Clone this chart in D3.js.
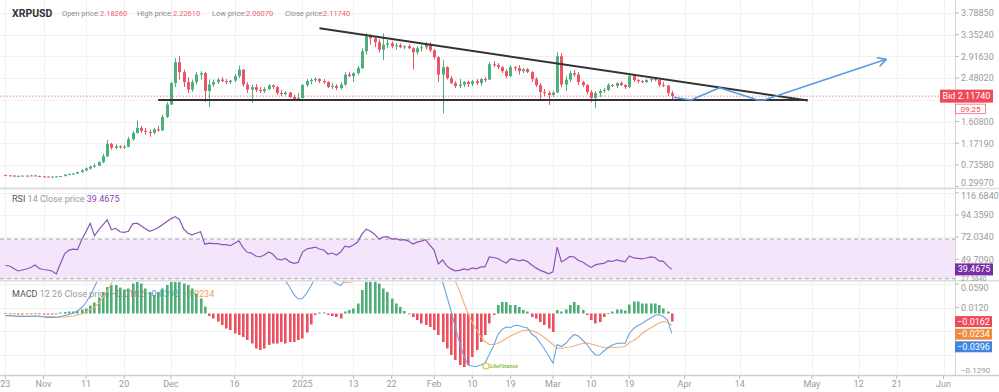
<!DOCTYPE html>
<html><head><meta charset="utf-8">
<script src="https://cdn.jsdelivr.net/npm/d3@7"></script>
<style>
body{margin:0;background:#fff;overflow:hidden}
svg{display:block;font-family:Roboto,"Noto Sans",sans-serif}
</style></head><body><svg id="c" width="999" height="392"></svg>
<script>
// ---------- DATA (daily candles from 2024-10-23) ----------
const startDate = "2024-10-23";
const opens = [0.530,0.525,0.522,0.510,0.516,0.520,0.515,0.524,0.514,0.504,
0.502,0.498,0.500,0.505,0.512,0.540,0.552,0.562,0.590,0.625,
0.665,0.700,0.720,0.790,0.910,1.160,1.080,1.110,1.090,1.100,
1.250,1.380,1.480,1.420,1.400,1.380,1.450,1.430,1.700,1.950,
2.380,2.800,2.600,2.400,2.250,2.400,2.550,2.580,2.220,2.350,
2.400,2.450,2.420,2.400,2.430,2.520,2.650,2.350,2.250,2.300,
2.240,2.220,2.260,2.330,2.300,2.180,2.160,2.190,2.100,2.060,
2.080,2.340,2.420,2.440,2.460,2.420,2.400,2.300,2.320,2.280,
2.350,2.550,2.520,2.580,2.680,3.020,3.320,3.280,3.200,3.050,
3.150,3.180,3.120,3.140,3.100,3.120,3.080,3.000,3.080,3.100,
3.160,3.040,2.900,2.550,2.700,2.480,2.380,2.320,2.350,2.400,
2.360,2.420,2.380,2.460,2.450,2.760,2.740,2.700,2.620,2.520,
2.700,2.680,2.620,2.660,2.600,2.460,2.340,2.200,2.180,2.140,
2.190,2.920,2.350,2.450,2.580,2.550,2.400,2.340,2.200,2.080,
2.180,2.220,2.240,2.340,2.320,2.380,2.340,2.300,2.520,2.440,
2.420,2.400,2.440,2.460,2.440,2.340,2.330,2.1826];
const highs = [0.540,0.532,0.526,0.520,0.524,0.528,0.530,0.528,0.518,0.512,
0.508,0.504,0.510,0.516,0.550,0.560,0.572,0.600,0.650,0.685,
0.725,0.760,0.810,0.960,1.240,1.180,1.150,1.130,1.140,1.300,
1.420,1.630,1.520,1.480,1.440,1.480,1.520,1.750,2.000,2.400,
2.880,2.920,2.650,2.500,2.450,2.600,2.620,2.600,2.450,2.450,
2.480,2.500,2.460,2.440,2.560,2.730,2.660,2.400,2.350,2.360,
2.300,2.300,2.360,2.360,2.320,2.240,2.220,2.200,2.140,2.180,
2.360,2.460,2.480,2.500,2.480,2.460,2.420,2.380,2.360,2.400,
2.600,2.600,2.600,2.720,3.080,3.380,3.360,3.300,3.260,3.380,
3.250,3.220,3.180,3.180,3.140,3.160,3.100,3.120,3.150,3.200,
3.200,3.060,2.920,2.840,2.720,2.520,2.420,2.460,2.420,2.430,
2.440,2.460,2.480,2.500,2.800,2.820,2.780,2.720,2.660,2.740,
2.720,2.740,2.680,2.680,2.620,2.500,2.380,2.260,2.220,2.220,
3.000,2.980,2.520,2.620,2.640,2.600,2.420,2.360,2.240,2.220,
2.260,2.280,2.380,2.360,2.400,2.420,2.360,2.580,2.560,2.460,
2.440,2.460,2.500,2.500,2.460,2.400,2.340,2.2261];
const lows = [0.520,0.515,0.500,0.505,0.510,0.508,0.510,0.510,0.500,0.494,
0.494,0.488,0.490,0.496,0.505,0.530,0.545,0.555,0.580,0.610,
0.640,0.680,0.710,0.770,0.890,1.040,1.050,1.060,1.060,1.090,
1.220,1.360,1.380,1.340,1.300,1.350,1.400,1.420,1.680,1.940,
2.300,2.450,2.300,2.180,2.200,2.350,2.450,2.000,1.900,2.300,
2.360,2.400,2.350,2.360,2.400,2.480,2.300,2.180,1.980,2.200,
2.180,2.180,2.240,2.260,2.140,2.120,2.130,2.080,2.030,2.040,
2.070,2.300,2.360,2.400,2.380,2.360,2.280,2.260,2.240,2.250,
2.320,2.500,2.400,2.550,2.660,2.950,3.150,3.100,3.000,2.840,
3.080,3.080,3.050,3.080,3.060,3.060,2.650,2.950,3.020,3.050,
3.000,2.860,2.400,1.770,2.450,2.360,2.280,2.280,2.300,2.300,
2.320,2.340,2.320,2.400,2.440,2.700,2.660,2.580,2.480,2.500,
2.620,2.550,2.580,2.580,2.400,2.300,2.040,2.120,1.940,2.100,
2.180,2.300,2.220,2.400,2.500,2.340,2.300,2.150,1.990,1.880,
2.100,2.180,2.220,2.300,2.280,2.320,2.260,2.280,2.400,2.380,
2.380,2.380,2.400,2.420,2.300,2.300,2.120,2.0607];
const closes = [0.525,0.522,0.510,0.516,0.520,0.515,0.524,0.514,0.504,0.502,
0.498,0.500,0.505,0.512,0.540,0.552,0.562,0.590,0.625,0.665,
0.700,0.720,0.790,0.910,1.160,1.080,1.110,1.090,1.100,1.250,
1.380,1.480,1.420,1.400,1.380,1.450,1.430,1.700,1.950,2.380,
2.800,2.600,2.400,2.250,2.400,2.550,2.580,2.220,2.350,2.400,
2.450,2.420,2.400,2.430,2.520,2.650,2.350,2.250,2.300,2.240,
2.220,2.260,2.330,2.300,2.180,2.160,2.190,2.100,2.060,2.080,
2.340,2.420,2.440,2.460,2.420,2.400,2.300,2.320,2.280,2.350,
2.550,2.520,2.580,2.680,3.020,3.320,3.280,3.200,3.050,3.150,
3.180,3.120,3.140,3.100,3.120,3.080,3.000,3.080,3.100,3.160,
3.040,2.900,2.550,2.700,2.480,2.380,2.320,2.350,2.400,2.360,
2.420,2.380,2.460,2.450,2.760,2.740,2.700,2.620,2.520,2.700,
2.680,2.620,2.660,2.600,2.460,2.340,2.200,2.180,2.140,2.190,
2.920,2.350,2.450,2.580,2.550,2.400,2.340,2.200,2.080,2.180,
2.220,2.240,2.340,2.320,2.380,2.340,2.300,2.520,2.440,2.420,
2.400,2.440,2.460,2.440,2.340,2.330,2.180,2.1174];
const rsi = [43.4,42.9,40.4,37.9,38.9,39.9,41.4,43.9,40.4,39.4,
38.9,37.9,34.9,45.4,55.4,58.9,59.9,59.4,69.4,77.4,
85.9,73.4,79.4,84.4,89.4,79.4,80.9,77.4,76.9,77.9,
85.4,86.0,83.4,80.4,77.9,79.4,81.4,84.4,87.4,90.4,
92.7,89.9,80.4,75.9,74.4,75.9,77.4,64.9,65.9,65.4,
65.4,64.4,64.4,63.4,65.9,68.4,61.4,56.7,55.9,53,
52,54,57,55,50,49,50.5,47,45.5,46.5,
57,60,61,62,60,59,55,56,54,57,
63,62,64,67,75,80,78,75,70,72,
72.5,70,70.5,69,69.5,68,65,67,68,69.5,
64,59,45,49,43,40,38,38.5,40,39,
41,40,42,42,52,51.5,50.5,48,46,50,
49.5,48,49,47.5,44,41,38.5,37,35,37,
62,47,49.5,52.5,52,48.5,47,44,41.5,44,
45,45.5,48,47.5,49,48,47,53,51,50.5,
50,51,52,51.5,48,47.5,43,39.4675];
const macdLine = [-0.004,-0.004,-0.005,-0.006,-0.006,-0.006,-0.006,-0.005,-0.006,-0.007,
-0.008,-0.008,-0.008,-0.006,-0.004,-0.002,0.001,0.005,0.012,0.022,
0.036,0.053,0.072,0.100,0.130,0.150,0.160,0.165,0.170,0.180,
0.198,0.218,0.230,0.232,0.235,0.237,0.253,0.272,0.293,0.315,
0.331,0.347,0.359,0.370,0.376,0.376,0.374,0.362,0.342,0.335,
0.325,0.313,0.299,0.288,0.272,0.259,0.244,0.225,0.203,0.176,
0.149,0.133,0.123,0.110,0.095,0.083,0.065,0.053,0.037,0.029,
0.030,0.041,0.055,0.072,0.076,0.075,0.069,0.065,0.060,0.056,
0.066,0.069,0.074,0.088,0.122,0.154,0.169,0.184,0.190,0.190,
0.190,0.182,0.175,0.170,0.163,0.158,0.150,0.143,0.135,0.130,
0.123,0.112,0.087,0.063,0.035,0.005,-0.028,-0.058,-0.085,-0.103,
-0.105,-0.106,-0.103,-0.099,-0.082,-0.065,-0.043,-0.032,-0.027,-0.028,
-0.024,-0.024,-0.027,-0.029,-0.041,-0.047,-0.059,-0.071,-0.085,-0.099,
-0.062,-0.066,-0.060,-0.050,-0.042,-0.045,-0.053,-0.062,-0.074,-0.083,
-0.083,-0.075,-0.068,-0.063,-0.060,-0.059,-0.060,-0.040,-0.030,-0.024,
-0.020,-0.014,-0.009,-0.004,-0.002,-0.006,-0.013,-0.0396];
const signalLine = [-0.005,-0.005,-0.005,-0.005,-0.005,-0.005,-0.005,-0.005,-0.005,-0.006,
-0.006,-0.006,-0.007,-0.007,-0.007,-0.006,-0.005,-0.003,-0.001,0.003,
0.008,0.013,0.020,0.032,0.045,0.060,0.078,0.094,0.108,0.122,
0.138,0.155,0.170,0.182,0.192,0.200,0.210,0.222,0.236,0.252,
0.268,0.284,0.299,0.313,0.326,0.336,0.344,0.348,0.347,0.345,
0.341,0.336,0.329,0.321,0.312,0.302,0.291,0.278,0.263,0.246,
0.222,0.203,0.186,0.170,0.155,0.140,0.125,0.110,0.094,0.082,
0.080,0.079,0.077,0.075,0.074,0.073,0.072,0.070,0.067,0.066,
0.062,0.062,0.064,0.068,0.075,0.090,0.105,0.120,0.130,0.140,
0.147,0.152,0.155,0.157,0.158,0.158,0.157,0.156,0.155,0.153,
0.150,0.145,0.130,0.120,0.105,0.088,0.065,0.045,0.022,0.000,
-0.018,-0.033,-0.046,-0.056,-0.062,-0.062,-0.060,-0.055,-0.050,-0.045,
-0.041,-0.037,-0.034,-0.033,-0.034,-0.037,-0.042,-0.048,-0.055,-0.062,
-0.069,-0.070,-0.068,-0.067,-0.065,-0.062,-0.060,-0.059,-0.061,-0.063,
-0.066,-0.068,-0.069,-0.067,-0.068,-0.067,-0.066,-0.058,-0.054,-0.048,
-0.040,-0.034,-0.029,-0.024,-0.019,-0.016,-0.017,-0.0234];
const histogram = [0.001,0.000,-0.001,-0.002,-0.002,-0.001,0.000,0.001,-0.001,-0.002,
-0.002,-0.002,-0.001,0.002,0.003,0.004,0.004,0.006,0.008,0.010,
0.016,0.022,0.032,0.043,0.053,0.057,0.057,0.052,0.048,0.050,
0.060,0.063,0.060,0.050,0.043,0.037,0.043,0.050,0.057,0.063,
0.063,0.063,0.060,0.057,0.050,0.040,0.030,0.014,-0.005,-0.010,
-0.016,-0.023,-0.030,-0.033,-0.040,-0.043,-0.047,-0.053,-0.060,-0.070,
-0.073,-0.070,-0.063,-0.060,-0.060,-0.057,-0.060,-0.057,-0.057,-0.053,
-0.050,-0.038,-0.022,-0.003,0.002,0.002,-0.003,-0.005,-0.007,-0.010,
0.004,0.007,0.010,0.020,0.047,0.064,0.064,0.064,0.060,0.050,
0.043,0.030,0.020,0.013,0.005,0.000,-0.007,-0.013,-0.020,-0.023,
-0.027,-0.033,-0.043,-0.057,-0.070,-0.083,-0.093,-0.103,-0.107,-0.103,
-0.087,-0.073,-0.057,-0.043,-0.020,-0.003,0.017,0.023,0.023,0.017,
0.017,0.013,0.007,0.004,-0.007,-0.010,-0.017,-0.023,-0.030,-0.037,
0.007,0.004,0.008,0.017,0.023,0.017,0.007,-0.003,-0.013,-0.020,
-0.017,-0.007,0.001,0.004,0.008,0.008,0.006,0.018,0.024,0.024,
0.020,0.020,0.020,0.020,0.017,0.010,0.004,-0.0162];

const priceTicks = [3.78850,3.35240,2.91630,2.48020,2.04410,1.60800,1.17190,0.73580,0.29970];
const rsiTicks = [116.6840,94.3590,72.0340,49.7090,27.3840];
const macdTicks = [0.0590,0.0120,-0.0350,-0.0820,-0.1290];
const rsiBand = [70,30];
const timeTickDates = ["2024-10-23","2024-11-01","2024-11-11","2024-11-20","2024-12-01","2024-12-16","2025-01-01","2025-01-13","2025-01-22","2025-02-01","2025-02-10","2025-02-19","2025-03-01","2025-03-10","2025-03-19","2025-04-01","2025-04-14","2025-05-01","2025-05-12","2025-05-21","2025-06-01"];
const timeTickLabels = ["23","Nov","11","20","Dec","16","2025","13","22","Feb","10","19","Mar","10","19","Apr","14","May","12","21","Jun"];
// drawings
const supportDates = ["2024-11-28","2025-04-30"], supportPrices = [2.04,2.04];
const resistDates = ["2025-01-05","2025-04-30"], resistPrices = [3.481,2.03];
const projDates = ["2025-03-29T10:00","2025-04-02T12:00","2025-04-09T06:00","2025-04-18T06:00","2025-04-19T18:00","2025-05-18T12:00"];
const projPrices = [2.095,2.04,2.287,2.04,2.04,2.857];
const headerLabels = ["Open price:","High price:","Low price:","Close price:"];
const bidTime = "09:25";

// ---------- SETUP ----------
const svg = d3.select("#c");
const plotR = 955;
const pane = {main:[0,188], rsi:[189,280.5], macd:[281.5,375]};
const parse = s => new Date(s + (s.length===10 ? "T00:00:00Z" : "Z"));
const day0 = parse(startDate);
const dates = closes.map((_,i)=> new Date(day0.getTime() + i*864e5));
const x = d3.scaleUtc().domain([parse("2024-10-23"), parse("2025-06-01")]).range([5.3, 943.5]);
const yP = d3.scaleLinear().domain([0.2997,3.7885]).range([186.6,13]);
const yR = d3.scaleLinear().domain([27.384,116.684]).range([281.4,192.8]);
const yM = d3.scaleLinear().domain([-0.129,0.059]).range([378,284]);

const GREEN="#4caf7d", RED="#ef5466", GRID="#f0f1f3", AX="#9a9a9a";
const defs = svg.append("defs");
function clip(id,x0,x1,[y0,y1]){defs.append("clipPath").attr("id",id).append("rect").attr("x",x0).attr("y",y0).attr("width",x1-x0).attr("height",y1-y0);}
clip("cm",0,plotR,pane.main); clip("cr",0,plotR,pane.rsi); clip("cmd",0,plotR,pane.macd);

svg.append("rect").attr("width",999).attr("height",392).attr("fill","#fff");

// grid
const grid = svg.append("g").attr("stroke",GRID).attr("stroke-width",1);
grid.selectAll(".v").data(timeTickDates).join("line")
  .attr("x1",d=>Math.round(x(parse(d)))+0.5).attr("x2",d=>Math.round(x(parse(d)))+0.5).attr("y1",0).attr("y2",375);
function hgrid(ticks,sc,cp){grid.append("g").attr("clip-path",`url(#${cp})`).selectAll("line").data(ticks).join("line")
  .attr("x1",0).attr("x2",plotR).attr("y1",d=>Math.round(sc(d))+0.5).attr("y2",d=>Math.round(sc(d))+0.5);}
hgrid(priceTicks,yP,"cm"); hgrid(rsiTicks,yR,"cr"); hgrid(macdTicks,yM,"cmd");

// ---------- MAIN PANE ----------
const gm = svg.append("g").attr("clip-path","url(#cm)");
const hdr = svg.append("g");
hdr.append("text").attr("x",12).attr("y",16.5).attr("font-size",10.5).attr("font-weight",700).attr("fill","#333").text("XRPUSD");
const last = closes.length-1;
const hvals = [opens[last],highs[last],lows[last],closes[last]];
const hx = [62,137,212,285], hvx = [100,173,246,323];
headerLabels.forEach((l,k)=>{
  hdr.append("text").attr("x",hx[k]).attr("y",16).attr("font-size",7.5).attr("fill","#8a8a8a").text(l);
  hdr.append("text").attr("x",hvx[k]).attr("y",16).attr("font-size",7.5).attr("fill","#f0606e").text(d3.format(".5f")(hvals[k]));
});
gm.append("line").attr("x1",0).attr("x2",940).attr("y1",yP(closes[last])).attr("y2",yP(closes[last]))
  .attr("stroke","#f06a78").attr("stroke-width",1).attr("stroke-dasharray","1.2,2");
const cw = 3;
const cg = gm.append("g");
cg.selectAll("line").data(d3.range(closes.length)).join("line")
  .attr("x1",i=>Math.round(x(dates[i]))+0.5).attr("x2",i=>Math.round(x(dates[i]))+0.5)
  .attr("y1",i=>yP(highs[i])).attr("y2",i=>yP(lows[i]))
  .attr("stroke",i=>closes[i]>=opens[i]?GREEN:RED).attr("stroke-width",1);
cg.selectAll("rect").data(d3.range(closes.length)).join("rect")
  .attr("x",i=>Math.round(x(dates[i]))+0.5-cw/2).attr("width",cw)
  .attr("y",i=>yP(Math.max(opens[i],closes[i])))
  .attr("height",i=>Math.max(1,Math.abs(yP(opens[i])-yP(closes[i]))))
  .attr("fill",i=>closes[i]>=opens[i]?GREEN:RED);
const tl = d3.line().x(d=>x(parse(d[0]))).y(d=>yP(d[1]));
gm.append("path").attr("d",tl(d3.zip(supportDates,supportPrices))).attr("fill","none").attr("stroke","#333").attr("stroke-width",2);
gm.append("path").attr("d",tl(d3.zip(resistDates,resistPrices))).attr("fill","none").attr("stroke","#333").attr("stroke-width",2);
const pp = d3.zip(projDates,projPrices);
gm.append("path").attr("d",tl(pp)).attr("fill","none").attr("stroke","#5d9be0").attr("stroke-width",1.6).attr("stroke-linejoin","round");
{
  const a = pp[pp.length-2], b = pp[pp.length-1];
  const x1=x(parse(a[0])), y1=yP(a[1]), x2=x(parse(b[0])), y2=yP(b[1]);
  const ang=Math.atan2(y2-y1,x2-x1), L=9, sp=0.5;
  const p1=[x2-L*Math.cos(ang-sp), y2-L*Math.sin(ang-sp)], p2=[x2-L*Math.cos(ang+sp), y2-L*Math.sin(ang+sp)];
  gm.append("path").attr("d",`M${p1}L${x2},${y2}L${p2}`).attr("fill","none").attr("stroke","#5d9be0").attr("stroke-width",1.6).attr("stroke-linejoin","round").attr("stroke-linecap","round");
}

// ---------- RSI PANE ----------
const gr = svg.append("g").attr("clip-path","url(#cr)");
gr.append("rect").attr("x",0).attr("width",plotR).attr("y",yR(rsiBand[0])).attr("height",yR(rsiBand[1])-yR(rsiBand[0])).attr("fill","#f3e6fb");
gr.selectAll(".bl").data(rsiBand).join("line").attr("x1",0).attr("x2",plotR).attr("y1",d=>yR(d)).attr("y2",d=>yR(d))
  .attr("stroke","#a8a8a8").attr("stroke-dasharray","4,3").attr("stroke-width",1);
gr.append("path").datum(rsi).attr("d",d3.line().x((d,i)=>x(dates[i])).y(d=>yR(d))).attr("fill","none").attr("stroke","#8a55b5").attr("stroke-width",1.2);
const rh = svg.append("text").attr("x",12).attr("y",202).attr("font-size",9);
rh.append("tspan").attr("fill","#555").text("RSI ");
rh.append("tspan").attr("fill","#9a9a9a").text("14 Close price ");
rh.append("tspan").attr("fill","#8a3fb5").text(d3.format(".4f")(rsi[last]));

// ---------- MACD PANE ----------
const gd = svg.append("g").attr("clip-path","url(#cmd)");
const mh = gd.append("text").attr("x",12).attr("y",297).attr("font-size",9);
mh.append("tspan").attr("fill","#555").text("MACD ");
mh.append("tspan").attr("fill","#9a9a9a").text("12 26 Close price ");
mh.append("tspan").attr("fill","#ef5466").text(d3.format(".4f")(histogram[last])+" ");
mh.append("tspan").attr("fill","#4a8fe0").text(d3.format(".4f")(macdLine[last])+" ");
mh.append("tspan").attr("fill","#f0a050").text(d3.format(".4f")(signalLine[last]));
gd.selectAll("rect").data(d3.range(histogram.length)).join("rect")
  .attr("x",i=>Math.round(x(dates[i]))-1).attr("width",2.6)
  .attr("y",i=>Math.min(yM(0),yM(histogram[i])))
  .attr("height",i=>Math.max(0.8,Math.abs(yM(histogram[i])-yM(0))))
  .attr("fill",i=>histogram[i]>=0?"#4fae78":"#ee4f5f");
const ml = d3.line().x((d,i)=>x(dates[i])).y(d=>yM(d));
gd.append("path").datum(signalLine).attr("d",ml).attr("fill","none").attr("stroke","#f3b07a").attr("stroke-width",1.1);
gd.append("path").datum(macdLine).attr("d",ml).attr("fill","none").attr("stroke","#6aa5e2").attr("stroke-width",1.1);
gd.append("circle").attr("cx",486).attr("cy",366).attr("r",3).attr("fill","none").attr("stroke","#e2c530").attr("stroke-width",1.2);
gd.append("text").attr("x",490).attr("y",368).attr("font-size",5.5).attr("font-style","italic").attr("font-weight",700).attr("fill","#8cc152").text("LiteFinance");

// ---------- separators & axes ----------
svg.append("g").attr("stroke","#dcdcdc").attr("stroke-width",1.5).selectAll("line").data([188.5,280.8]).join("line")
  .attr("x1",0).attr("x2",999).attr("y1",d=>d).attr("y2",d=>d);
svg.append("line").attr("x1",plotR+0.5).attr("x2",plotR+0.5).attr("y1",0).attr("y2",375).attr("stroke","#d6d6d6");
function yaxis(ticks,sc,[p0,p1],fmt,avoid,special){
  const g = svg.append("g");
  const vis = ticks.filter(t=>avoid.every(a=>Math.abs(sc(t)-a)>9));
  g.selectAll("line").data(vis.filter(d=>sc(d)>p0&&sc(d)<p1)).join("line").attr("x1",plotR).attr("x2",plotR+4).attr("y1",d=>sc(d)).attr("y2",d=>sc(d)).attr("stroke","#bbb");
  g.selectAll("text").data(vis).join("text").attr("x",plotR+6)
    .attr("y",d=> special && special[d] ? special[d].y : Math.min(Math.max(sc(d)+3.3,p0+9.5),p1-2.3))
    .attr("font-size",d=> special && special[d] ? special[d].fs : 9)
    .attr("fill",AX).text(fmt);
}
const bidY = yP(closes[last]);
yaxis(priceTicks,yP,pane.main,d3.format(".5f"),[bidY]);
const ry = yR(rsi[last]);
yaxis(rsiTicks,yR,pane.rsi,d3.format(".4f"),[ry],{27.384:{y:280.6,fs:7}});
const badges = [{v:histogram[last],c:"#ef4a5a"},{v:signalLine[last],c:"#f08a3c"},{v:macdLine[last],c:"#3f86e0"}]
  .map(b=>({...b,y:yM(b.v)})).sort((a,b)=>a.y-b.y);
for(let k=1;k<badges.length;k++) badges[k].y=Math.max(badges[k].y,badges[k-1].y+12.6);
yaxis(macdTicks,yM,pane.macd,d3.format(".4f"),badges.map(b=>b.y),{0.059:{y:291,fs:9},[-0.129]:{y:373,fs:8}});

svg.append("rect").attr("x",940).attr("y",bidY-6.5).attr("width",53).attr("height",13).attr("fill","#ef4a5a");
svg.append("text").attr("x",966.5).attr("y",bidY+3.2).attr("text-anchor","middle").attr("font-size",9).attr("fill","#fff").text("Bid "+d3.format(".5f")(closes[last]));
svg.append("rect").attr("x",955.5).attr("y",bidY+8).attr("width",30).attr("height",9.5).attr("fill","#fff").attr("stroke","#ef6a78").attr("stroke-width",0.8);
svg.append("text").attr("x",970.5).attr("y",bidY+15.5).attr("text-anchor","middle").attr("font-size",8).attr("fill","#ef4a5a").text(bidTime);
svg.append("rect").attr("x",955).attr("y",ry-6).attr("width",38).attr("height",12).attr("fill","#7a2da8");
svg.append("text").attr("x",974).attr("y",ry+2.5).attr("text-anchor","middle").attr("font-size",9).attr("fill","#fff").text(d3.format(".4f")(rsi[last]));
badges.forEach(b=>{
  svg.append("rect").attr("x",955).attr("y",b.y-5.5).attr("width",37).attr("height",11).attr("fill",b.c);
  svg.append("text").attr("x",973.5).attr("y",b.y+3.2).attr("text-anchor","middle").attr("font-size",9).attr("fill","#fff").text(d3.format(".4f")(b.v));
});

// time axis
svg.append("line").attr("x1",0).attr("x2",999).attr("y1",375.5).attr("y2",375.5).attr("stroke","#cfcfcf").attr("stroke-width",1.5);
const tx = svg.append("g");
tx.selectAll("line").data(timeTickDates).join("line").attr("x1",d=>x(parse(d))).attr("x2",d=>x(parse(d))).attr("y1",376).attr("y2",379).attr("stroke","#bbb");
tx.selectAll("text").data(timeTickDates).join("text").attr("x",d=>x(parse(d))).attr("y",387).attr("text-anchor","middle")
  .attr("font-size",9).attr("fill",AX).text((d,i)=>timeTickLabels[i]);
</script></body></html>
